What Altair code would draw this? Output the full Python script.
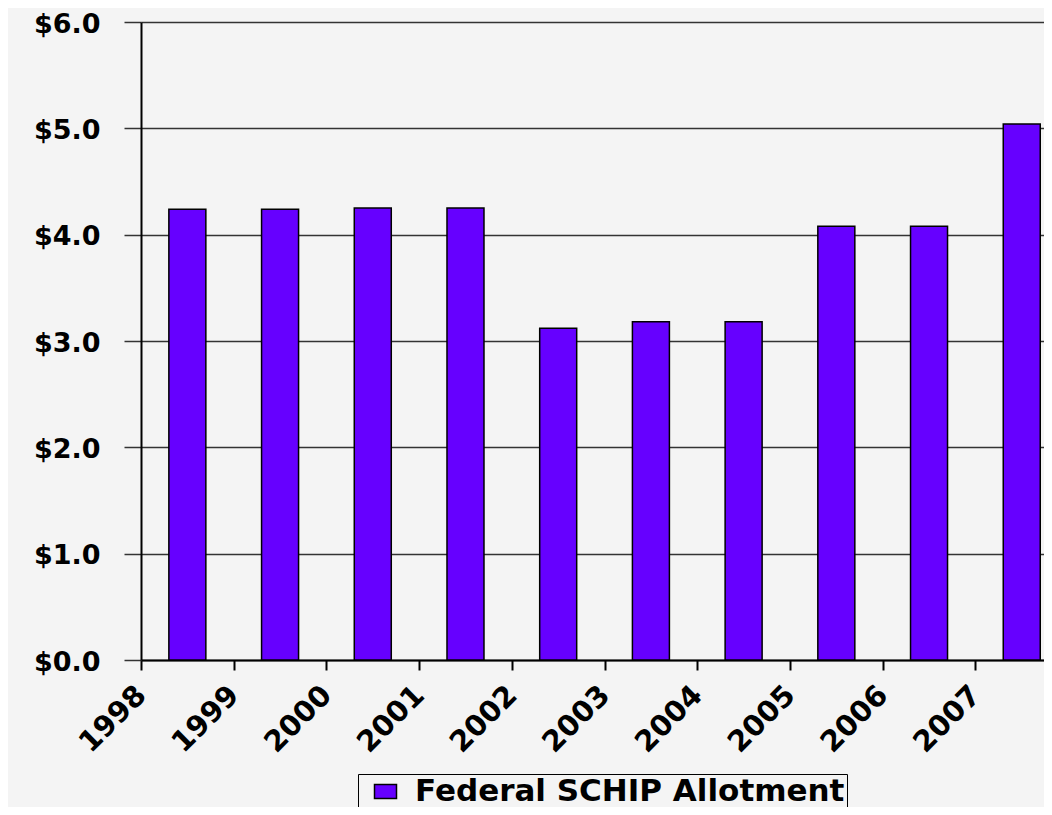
import altair as alt
import pandas as pd

years = ["1998", "1999", "2000", "2001", "2002", "2003", "2004", "2005", "2006", "2007"]
values = [4.24, 4.24, 4.25, 4.25, 3.12, 3.18, 3.18, 4.08, 4.08, 5.04]
series_name = "Federal SCHIP Allotment"
y_ticks = [0, 1, 2, 3, 4, 5, 6]

df = pd.DataFrame({
    "pos": [i + 0.5 for i in range(len(years))],
    "year": years,
    "value": values,
    "series": [series_name] * len(years),
})

label_expr = "[" + ",".join(f"'{y}'" for y in years) + "][datum.value]"
FONT = "DejaVu Sans"

rect_path = "M-1,-0.64L1,-0.64L1,0.64L-1,0.64Z"

chart = alt.Chart(df).mark_bar(size=37, stroke="black", strokeWidth=1.5).encode(
    x=alt.X("pos:Q",
            scale=alt.Scale(domain=[0, 9.74], nice=False, zero=False, padding=0),
            axis=alt.Axis(values=list(range(len(years))), labelExpr=label_expr, title=None,
                          grid=False, labelAngle=315, labelAlign="right", labelBaseline="middle",
                          labelFont=FONT, labelFontSize=29, labelFontWeight="bold",
                          labelColor="black", tickSize=10, tickColor="black", tickWidth=2,
                          domainColor="black", domainWidth=2, labelPadding=20,
                          labelOverlap=False, labelFlush=False)),
    y=alt.Y("value:Q",
            scale=alt.Scale(domain=[0, 6], nice=False, padding=0),
            axis=alt.Axis(values=y_ticks, format="$.1f", title=None,
                          grid=True, gridColor="#333333", gridWidth=1.5,
                          labelFont=FONT, labelFontSize=27, labelFontWeight="bold",
                          labelColor="black", labelBaseline="middle", labelOffset=2,
                          labelFlush=False,
                          tickSize=17, tickColor="#333333", tickWidth=1.5,
                          domainColor="black", domainWidth=2, labelPadding=24)),
    color=alt.Color("series:N",
                    scale=alt.Scale(range=["#6600ff"]),
                    legend=alt.Legend(title=None, orient="none", legendX=217, legendY=752,
                                      direction="horizontal", strokeColor="black",
                                      fillColor="#f4f4f4", padding=2,
                                      symbolType=rect_path, symbolSize=484,
                                      symbolStrokeColor="black", symbolStrokeWidth=1.5,
                                      symbolOffset=10,
                                      labelFont=FONT, labelFontSize=31, labelFontWeight="bold",
                                      labelColor="black", labelLimit=700, labelOffset=14)),
).properties(
    width=903,
    height=638,
    padding={"left": 133, "top": 14, "right": 0, "bottom": 147},
    autosize=alt.AutoSizeParams(type="none"),
    background="#f4f4f4",
).configure_view(stroke=None)

chart.save("out.html", embed_options={"renderer": "svg", "actions": False})
